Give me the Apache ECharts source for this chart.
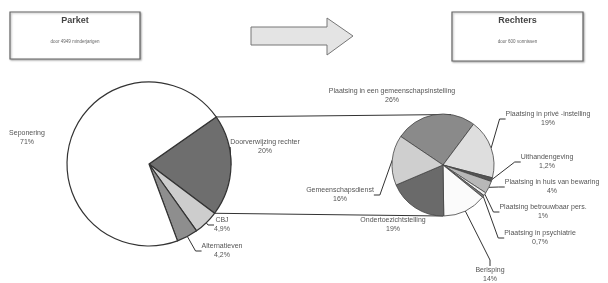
<!DOCTYPE html>
<html>
<head>
<meta charset="utf-8">
<script src="https://cdn.jsdelivr.net/npm/echarts@6/dist/echarts.min.js"></script>
<style>
  html, body { margin: 0; padding: 0; background: #fff; }
  #chart { width: 608px; height: 283px; }
</style>
</head>
<body>
<div id="chart"></div>
<script>
// linker taart: parket
const leftNames = ['Doorverwijzing rechter', 'CBJ', 'Alternatieven', 'Seponering'];
const leftValues = [20, 4.9, 4.2, 71];
const leftColors = ['#6e6e6e', '#cdcdcd', '#8e8e8e', '#ffffff'];

// rechter taart: uitsplitsing doorverwijzing
const rightNames = [
  'Plaatsing in een gemeenschapsinstelling',
  'Plaatsing in privé -instelling',
  'Uithandengeving',
  'Plaatsing in huis van bewaring',
  'Plaatsing betrouwbaar pers.',
  'Plaatsing in psychiatrie',
  'Berisping',
  'Ondertoezichtstelling',
  'Gemeenschapsdienst'
];
const rightValues = [26, 19, 1.2, 4, 1, 0.7, 14, 19, 16];
const rightColors = ['#8a8a8a', '#dedede', '#555555', '#b8b8b8', '#eeeeee', '#7a7a7a', '#fbfbfb', '#6a6a6a', '#cfcfcf'];

const boxTitles = ['Parket', 'Rechters'];
const boxSubtitles = ['door 4949 minderjarigen', 'door 600 vonnissen'];

// opmaak (posities in pixels)
const leftCenter = [149, 164], leftRadius = 82, leftStart = 35;
const rightCenter = [443, 165], rightRadius = 51, rightStart = 146;
const leftLabelPos = [[265, 147], [222, 225], [222, 251], [27, 138]];
const rightLabelPos = [[392, 96], [548, 119], [547, 162], [552, 187], [543, 212], [540, 238], [490, 275], [393, 225], [340, 195]];
const noLine = { left: [3], right: [0, 7] };

const pct = v => String(v).replace('.', ',') + '%';
const textStyle = { color: '#555', fontSize: 7, fontFamily: 'Liberation Sans', lineHeight: 9 };

function buildData(names, values, colors, hide) {
  return names.map((n, i) => ({
    name: n,
    value: values[i],
    itemStyle: { color: colors[i] },
    labelLine: { show: hide.indexOf(i) < 0 }
  }));
}

// verbindingslijnen uit de hoeken van het doorverwijzingssegment
const leftTotal = leftValues.reduce((a, b) => a + b, 0);
const a0 = leftStart * Math.PI / 180;
const a1 = (leftStart - 360 * leftValues[0] / leftTotal) * Math.PI / 180;
const edge = a => [leftCenter[0] + leftRadius * Math.cos(a), leftCenter[1] - leftRadius * Math.sin(a)];
const p0 = edge(a0), p1 = edge(a1);

const myChart = echarts.init(document.getElementById('chart'), null, { renderer: 'canvas' });

const boxes = [[10, 12, 130, 47], [452, 12, 131, 49]];
const graphics = [];
boxes.forEach((b, i) => {
  graphics.push({
    type: 'rect', z: 1,
    shape: { x: b[0], y: b[1], width: b[2], height: b[3] },
    style: { fill: '#fff', stroke: '#666', lineWidth: 1.2, shadowBlur: 2, shadowColor: 'rgba(0,0,0,0.3)', shadowOffsetX: 1, shadowOffsetY: 1 }
  });
  graphics.push({
    type: 'text', z: 2,
    style: { text: boxTitles[i], x: b[0] + b[2] / 2, y: b[1] + 9, align: 'center', verticalAlign: 'middle',
      fill: '#444', font: 'bold 9px "Liberation Sans"' }
  });
  graphics.push({
    type: 'text', z: 2,
    style: { text: boxSubtitles[i], x: b[0] + b[2] / 2, y: b[1] + 30, align: 'center', verticalAlign: 'middle',
      fill: '#666', font: '4.5px "Liberation Sans"' }
  });
});
graphics.push({
  type: 'polygon', z: 1,
  shape: { points: [[251, 27], [327, 27], [327, 18], [353, 36], [327, 55], [327, 45], [251, 45]] },
  style: { fill: '#e4e4e4', stroke: '#777', lineWidth: 1 }
});
graphics.push({
  type: 'line', z: 1,
  shape: { x1: p0[0], y1: p0[1], x2: rightCenter[0] + 8, y2: rightCenter[1] - rightRadius + 0.5 },
  style: { stroke: '#333', lineWidth: 1 }
});
graphics.push({
  type: 'line', z: 1,
  shape: { x1: p1[0], y1: p1[1], x2: rightCenter[0], y2: rightCenter[1] + rightRadius },
  style: { stroke: '#333', lineWidth: 1 }
});

const option = {
  animation: false,
  backgroundColor: '#ffffff',
  graphic: graphics,
  series: [
    {
      type: 'pie',
      center: leftCenter,
      radius: leftRadius,
      startAngle: leftStart,
      clockwise: true,
      avoidLabelOverlap: false,
      emphasis: { disabled: true },
      itemStyle: { borderColor: '#333', borderWidth: 1.2 },
      label: Object.assign({ formatter: p => p.name + '\n' + pct(p.value) }, textStyle),
      labelLine: { length: 6, length2: 6, lineStyle: { color: '#333', width: 1 } },
      labelLayout: p => ({ x: leftLabelPos[p.dataIndex][0], y: leftLabelPos[p.dataIndex][1], align: 'center', verticalAlign: 'middle' }),
      data: buildData(leftNames, leftValues, leftColors, noLine.left)
    },
    {
      type: 'pie',
      center: rightCenter,
      radius: rightRadius,
      startAngle: rightStart,
      clockwise: true,
      avoidLabelOverlap: false,
      emphasis: { disabled: true },
      itemStyle: { borderColor: '#444', borderWidth: 0.8 },
      label: Object.assign({ formatter: p => p.name + '\n' + pct(p.value) }, textStyle),
      labelLine: { length: 6, length2: 6, lineStyle: { color: '#333', width: 1 } },
      labelLayout: p => ({ x: rightLabelPos[p.dataIndex][0], y: rightLabelPos[p.dataIndex][1], align: 'center', verticalAlign: 'middle' }),
      data: buildData(rightNames, rightValues, rightColors, noLine.right)
    }
  ]
};

myChart.setOption(option);
</script>
</body>
</html>
